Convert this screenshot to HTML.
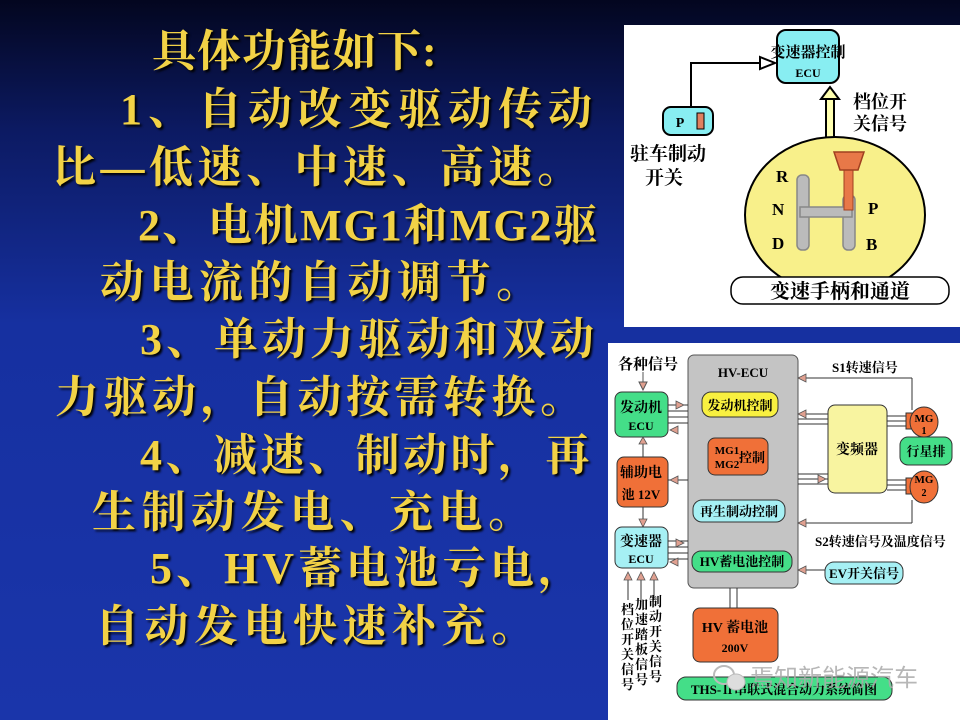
<!DOCTYPE html>
<html><head><meta charset="utf-8"><style>
html,body{margin:0;padding:0}
body{width:960px;height:720px;position:relative;overflow:hidden;background:linear-gradient(180deg,#03061f 0%,#0c1a62 18%,#1630a0 45%,#1a35aa 100%);font-family:"Liberation Serif","Noto Serif CJK SC",serif}
.t{position:absolute;color:#f2d246;font-size:44px;font-weight:bold;letter-spacing:3px;white-space:nowrap;text-shadow:2px 2px 2px #000;line-height:1}
svg text{font-family:"Liberation Serif","Noto Serif CJK SC",serif;font-weight:bold}
</style></head><body>
<div class="t" style="left:152px;top:30px;letter-spacing:1px">具体功能如下:</div>
<div class="t" style="left:120px;top:88px;letter-spacing:6px">1、自动改变驱动传动</div>
<div class="t" style="left:52px;top:146px;letter-spacing:4.5px">比—低速、中速、高速。</div>
<div class="t" style="left:138px;top:204px;letter-spacing:2px">2、电机MG1和MG2驱</div>
<div class="t" style="left:100px;top:261px;letter-spacing:5.5px">动电流的自动调节。</div>
<div class="t" style="left:140px;top:318px;letter-spacing:4px">3、单动力驱动和双动</div>
<div class="t" style="left:55px;top:376px;letter-spacing:4.5px">力驱动，自动按需转换。</div>
<div class="t" style="left:140px;top:434px;letter-spacing:3.5px">4、减速、制动时，再</div>
<div class="t" style="left:92px;top:491px;letter-spacing:5.5px">生制动发电、充电。</div>
<div class="t" style="left:150px;top:547px;letter-spacing:4px">5、HV蓄电池亏电，</div>
<div class="t" style="left:95px;top:605px;letter-spacing:5.5px">自动发电快速补充。</div>

<svg width="960" height="720" style="position:absolute;left:0;top:0">
<!-- panel 1 -->
<rect x="624" y="25" width="336" height="302" fill="#fff"/>
<rect x="777" y="30" width="62" height="53" rx="9" fill="#88eef2" stroke="#000" stroke-width="2"/>
<text x="808" y="57" font-size="15" text-anchor="middle">变速器控制</text>
<text x="808" y="77" font-size="12" text-anchor="middle">ECU</text>
<polyline points="691,107 691,63 760,63" fill="none" stroke="#000" stroke-width="2"/>
<polygon points="760,57 775,63 760,69" fill="#fff" stroke="#000" stroke-width="2"/>
<rect x="663" y="107" width="50" height="28" rx="8" fill="#88eef2" stroke="#000" stroke-width="2"/>
<text x="680" y="127" font-size="14" text-anchor="middle">P</text>
<rect x="697" y="113" width="7" height="16" fill="#e08060" stroke="#000"/>
<text x="630" y="160" font-size="19">驻车制动</text>
<text x="645" y="184" font-size="19">开关</text>
<line x1="826" y1="98" x2="826" y2="142" stroke="#000" stroke-width="2"/>
<line x1="834" y1="98" x2="834" y2="142" stroke="#000" stroke-width="2"/>
<rect x="827" y="98" width="6" height="44" fill="#ffffb0"/>
<polygon points="821,99 830,87 839,99" fill="#ffffb0" stroke="#000" stroke-width="2"/>
<text x="853" y="108" font-size="18">档位开</text>
<text x="853" y="130" font-size="18">关信号</text>
<ellipse cx="835" cy="215" rx="90" ry="78" fill="#f8f08a" stroke="#000" stroke-width="2"/>
<g fill="#bbb" stroke="#888" stroke-width="1.5">
<rect x="797" y="175" width="12" height="75" rx="5"/>
<rect x="843" y="195" width="12" height="55" rx="5"/>
<rect x="800" y="207" width="52" height="10"/>
</g>
<rect x="844" y="160" width="9" height="50" fill="#e87848" stroke="#a04020"/>
<path d="M834,152 L864,152 L858,170 L840,170 Z" fill="#e87848" stroke="#a04020" stroke-width="1.5"/>
<text x="776" y="182" font-size="17">R</text>
<text x="772" y="215" font-size="17">N</text>
<text x="772" y="249" font-size="17">D</text>
<text x="868" y="214" font-size="17">P</text>
<text x="866" y="250" font-size="17">B</text>
<rect x="731" y="277" width="218" height="27" rx="12" fill="#fff" stroke="#000" stroke-width="1.5"/>
<text x="840" y="298" font-size="20" text-anchor="middle">变速手柄和通道</text>

<!-- panel 2 -->
<rect x="608" y="343" width="352" height="377" fill="#fff"/>
<text x="618" y="369" font-size="15">各种信号</text>
<line x1="643" y1="372" x2="643" y2="390" stroke="#555"/>
<polygon points="639,382 647,382 643,390" fill="#e0a090" stroke="#555"/>
<rect x="688" y="355" width="110" height="233" rx="6" fill="#c4c4c4" stroke="#555"/>
<text x="743" y="377" font-size="13" text-anchor="middle">HV-ECU</text>
<rect x="615" y="392" width="53" height="45" rx="7" fill="#44de88" stroke="#333"/>
<text x="641" y="412" font-size="14" text-anchor="middle">发动机</text>
<text x="641" y="430" font-size="12" text-anchor="middle">ECU</text>
<g stroke="#333" stroke-width="1">
<line x1="668" y1="405" x2="688" y2="405"/><line x1="668" y1="411" x2="688" y2="411"/><line x1="668" y1="417" x2="688" y2="417"/><line x1="668" y1="423" x2="688" y2="423"/>
<line x1="668" y1="541" x2="688" y2="541"/><line x1="668" y1="547" x2="688" y2="547"/><line x1="668" y1="553" x2="688" y2="553"/><line x1="668" y1="559" x2="688" y2="559"/>
<line x1="668" y1="480" x2="688" y2="480"/>
<line x1="643" y1="437" x2="643" y2="457"/><line x1="643" y1="507" x2="643" y2="527"/>
<line x1="798" y1="378" x2="912" y2="378"/><line x1="912" y1="378" x2="912" y2="410"/>
<line x1="798" y1="523" x2="912" y2="523"/><line x1="912" y1="523" x2="912" y2="500"/>
<line x1="798" y1="414" x2="828" y2="414"/><line x1="798" y1="419" x2="828" y2="419"/><line x1="798" y1="424" x2="828" y2="424"/>
<line x1="798" y1="474" x2="828" y2="474"/><line x1="798" y1="479" x2="828" y2="479"/><line x1="798" y1="484" x2="828" y2="484"/>
<line x1="887" y1="416" x2="910" y2="416"/><line x1="887" y1="421" x2="910" y2="421"/><line x1="887" y1="426" x2="910" y2="426"/>
<line x1="887" y1="480" x2="910" y2="480"/><line x1="887" y1="485" x2="910" y2="485"/><line x1="887" y1="490" x2="910" y2="490"/>
<line x1="798" y1="570" x2="825" y2="570"/>
<line x1="730" y1="588" x2="730" y2="608"/><line x1="737" y1="588" x2="737" y2="608"/>
<line x1="628" y1="572" x2="628" y2="600"/><line x1="641" y1="572" x2="641" y2="600"/><line x1="654" y1="572" x2="654" y2="600"/>
</g>
<g fill="#e0a090" stroke="#555" stroke-width="0.8">
<polygon points="676,401 684,405 676,409"/><polygon points="676,539 684,543 676,547"/>
<polygon points="678,426 670,430 678,434"/><polygon points="678,558 670,562 678,566"/>
<polygon points="678,476 670,480 678,484"/>
<polygon points="639,444 647,444 643,437"/><polygon points="639,519 647,519 643,527"/>
<polygon points="806,374 798,378 806,382"/><polygon points="806,519 798,523 806,527"/>
<polygon points="806,410 798,414 806,418"/><polygon points="818,475 826,479 818,483"/>
<polygon points="806,566 798,570 806,574"/>
<polygon points="624,580 632,580 628,572"/><polygon points="637,580 645,580 641,572"/><polygon points="650,580 658,580 654,572"/>
</g>
<rect x="617" y="457" width="51" height="50" rx="7" fill="#f07038" stroke="#333"/>
<text x="641" y="477" font-size="14" text-anchor="middle">辅助电</text>
<text x="641" y="499" font-size="13" text-anchor="middle">池 12V</text>
<rect x="615" y="527" width="53" height="41" rx="7" fill="#a6f0f4" stroke="#333"/>
<text x="641" y="546" font-size="14" text-anchor="middle">变速器</text>
<text x="641" y="563" font-size="12" text-anchor="middle">ECU</text>
<g font-size="13">
<text x="621" y="614">档</text><text x="621" y="629">位</text><text x="621" y="644">开</text><text x="621" y="659">关</text><text x="621" y="674">信</text><text x="621" y="689">号</text>
<text x="635" y="609">加</text><text x="635" y="624">速</text><text x="635" y="639">踏</text><text x="635" y="654">板</text><text x="635" y="669">信</text><text x="635" y="684">号</text>
<text x="649" y="606">制</text><text x="649" y="621">动</text><text x="649" y="636">开</text><text x="649" y="651">关</text><text x="649" y="666">信</text><text x="649" y="681">号</text>
</g>
<rect x="702" y="392" width="76" height="25" rx="9" fill="#f8f040" stroke="#333"/>
<text x="740" y="410" font-size="13" text-anchor="middle">发动机控制</text>
<rect x="708" y="438" width="60" height="37" rx="7" fill="#f07038" stroke="#333"/>
<text x="727" y="454" font-size="11" text-anchor="middle">MG1</text>
<text x="727" y="468" font-size="11" text-anchor="middle">MG2</text>
<text x="752" y="462" font-size="13" text-anchor="middle">控制</text>
<rect x="693" y="500" width="92" height="22" rx="9" fill="#a6f0f4" stroke="#333"/>
<text x="739" y="516" font-size="13" text-anchor="middle">再生制动控制</text>
<rect x="692" y="551" width="100" height="21" rx="9" fill="#44de88" stroke="#333"/>
<text x="742" y="566" font-size="13" text-anchor="middle">HV蓄电池控制</text>
<rect x="828" y="405" width="59" height="88" rx="7" fill="#f8f4a0" stroke="#333"/>
<text x="857" y="454" font-size="14" text-anchor="middle">变频器</text>
<rect x="906" y="413" width="7" height="16" fill="#f07038" stroke="#333"/>
<ellipse cx="924" cy="422" rx="14" ry="15" fill="#f07038" stroke="#333"/>
<text x="924" y="422" font-size="11" text-anchor="middle">MG</text>
<text x="924" y="434" font-size="10" text-anchor="middle">1</text>
<rect x="900" y="437" width="52" height="28" rx="8" fill="#44de88" stroke="#333"/>
<text x="926" y="456" font-size="13" text-anchor="middle">行星排</text>
<rect x="906" y="478" width="7" height="16" fill="#f07038" stroke="#333"/>
<ellipse cx="924" cy="487" rx="14" ry="16" fill="#f07038" stroke="#333"/>
<text x="924" y="483" font-size="11" text-anchor="middle">MG</text>
<text x="924" y="496" font-size="10" text-anchor="middle">2</text>
<text x="832" y="372" font-size="13">S1转速信号</text>
<text x="815" y="546" font-size="13">S2转速信号及温度信号</text>
<rect x="825" y="562" width="78" height="22" rx="9" fill="#a6f0f4" stroke="#333"/>
<text x="864" y="578" font-size="13" text-anchor="middle">EV开关信号</text>
<rect x="693" y="608" width="85" height="54" rx="7" fill="#f07038" stroke="#333"/>
<text x="735" y="632" font-size="14" text-anchor="middle">HV 蓄电池</text>
<text x="735" y="652" font-size="12" text-anchor="middle">200V</text>
<rect x="677" y="677" width="215" height="23" rx="9" fill="#44de88" stroke="#333"/>
<text x="784" y="694" font-size="13" text-anchor="middle">THS-Ⅱ串联式混合动力系统简图</text>
<ellipse cx="724" cy="675" rx="10" ry="9" fill="none" stroke="#bbb" stroke-width="2"/>
<ellipse cx="736" cy="682" rx="9" ry="8" fill="#ddd" stroke="#bbb"/>
<text x="750" y="686" font-size="24" fill="#aaa" fill-opacity="0.85" style="font-family:'Noto Sans CJK SC',sans-serif;font-weight:normal">焉知新能源汽车</text>
</svg>
</body></html>
